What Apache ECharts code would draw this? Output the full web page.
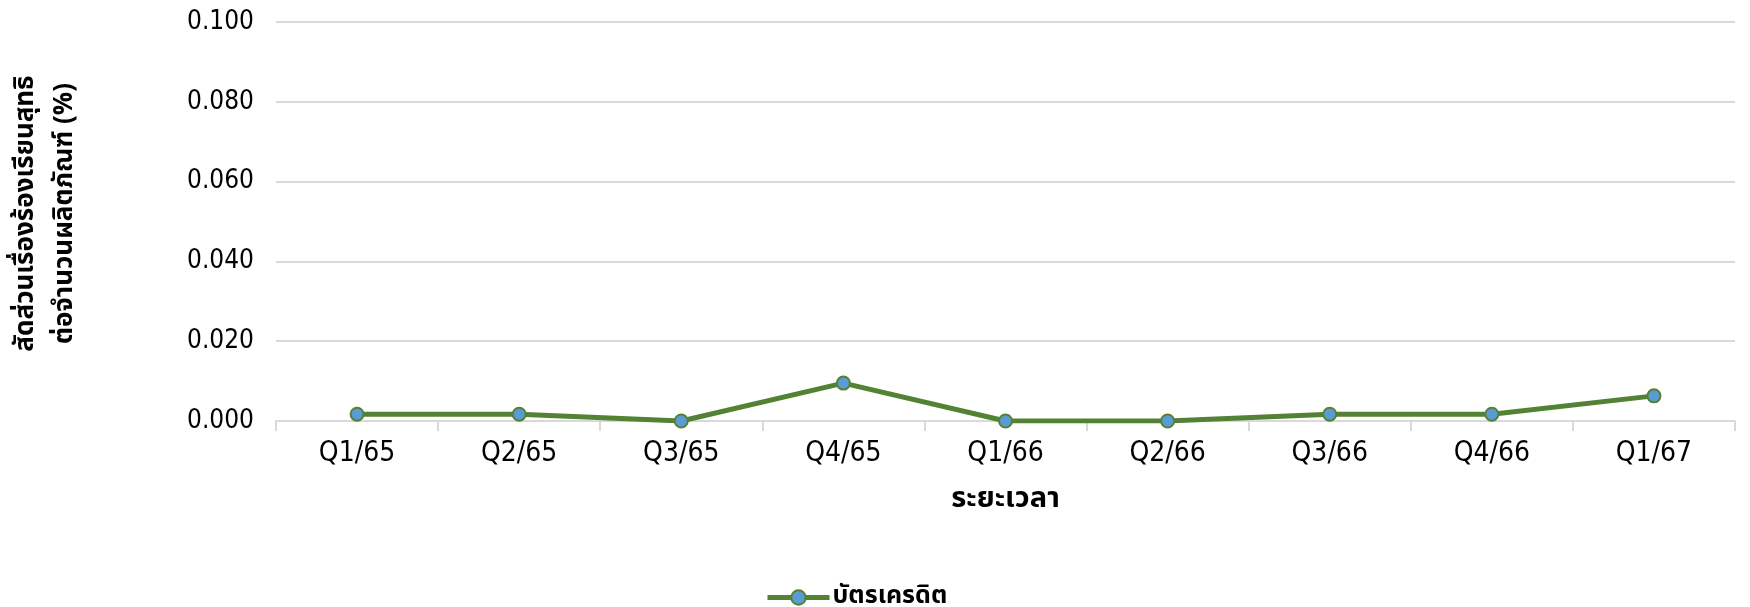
<!DOCTYPE html>
<html>
<head>
<meta charset="utf-8">
<script src="https://cdn.jsdelivr.net/npm/echarts@6/dist/echarts.min.js"></script>
<style>
  html, body { margin: 0; padding: 0; background: #fff; }
  #chart { width: 1750px; height: 607px; }
</style>
</head>
<body>
<div id="chart"></div>
<script>
// ข้อมูลรายไตรมาส
var quarters = ['Q1/65', 'Q2/65', 'Q3/65', 'Q4/65', 'Q1/66', 'Q2/66', 'Q3/66', 'Q4/66', 'Q1/67'];
var creditCard = [0.0017, 0.0017, 0.0000, 0.0095, 0.0000, 0.0000, 0.0017, 0.0017, 0.0063];
var seriesName = 'บัตรเครดิต';
var yTitle = 'สัดส่วนเรื่องร้องเรียนสุทธิ\nต่อจำนวนผลิตภัณฑ์ (%)';
var xTitle = 'ระยะเวลา';

var numFont = '"DejaVu Sans Condensed", "DejaVu Sans", sans-serif';
var thaiFont = '"Noto Sans Thai", "Noto Sans", "DejaVu Sans", sans-serif';

var myChart = echarts.init(document.getElementById('chart'));

var option = {
    animation: false,
    grid: { left: 273, right: 15, top: 22, bottom: 186 },
    legend: {
        data: [seriesName],
        top: 580,
        left: 760,
        itemWidth: 62,
        itemHeight: 18,
        itemGap: 4,
        lineStyle: { color: '#548235', width: 5 },
        textStyle: { fontFamily: thaiFont, fontSize: 25, fontWeight: 'bold', color: '#000', padding: [0, 0, 0, -2] }
    },
    xAxis: {
        type: 'category',
        data: quarters,
        boundaryGap: true,
        name: xTitle,
        nameLocation: 'middle',
        nameGap: 66,
        nameTextStyle: { fontFamily: thaiFont, fontSize: 29, fontWeight: 'bold', color: '#000' },
        axisLine: { lineStyle: { color: '#d9d9d9', width: 2 } },
        axisTick: { show: true, length: 10, lineStyle: { color: '#d9d9d9', width: 2 } },
        axisLabel: { fontFamily: numFont, fontSize: 28, color: '#000', margin: 19 }
    },
    yAxis: {
        type: 'value',
        min: 0,
        max: 0.1,
        interval: 0.02,
        name: yTitle,
        nameLocation: 'middle',
        nameRotate: 90,
        nameGap: 190,
        nameTextStyle: {
            fontFamily: thaiFont, fontSize: 26, fontWeight: 'bold', color: '#000',
            lineHeight: 39, padding: [0, 0, 0, 16]
        },
        axisLine: { show: false },
        axisTick: { show: false },
        splitLine: { lineStyle: { color: '#d9d9d9', width: 2 } },
        axisLabel: {
            fontFamily: numFont, fontSize: 26, color: '#000', margin: 22,
            formatter: function (v) { return v.toFixed(3); }
        }
    },
    series: [{
        name: seriesName,
        type: 'line',
        data: creditCard,
        symbol: 'circle',
        symbolSize: 13,
        lineStyle: { color: '#548235', width: 5 },
        itemStyle: { color: '#5b9bd5', borderColor: '#548235', borderWidth: 2 }
    }]
};
myChart.setOption(option);
</script>
</body>
</html>
